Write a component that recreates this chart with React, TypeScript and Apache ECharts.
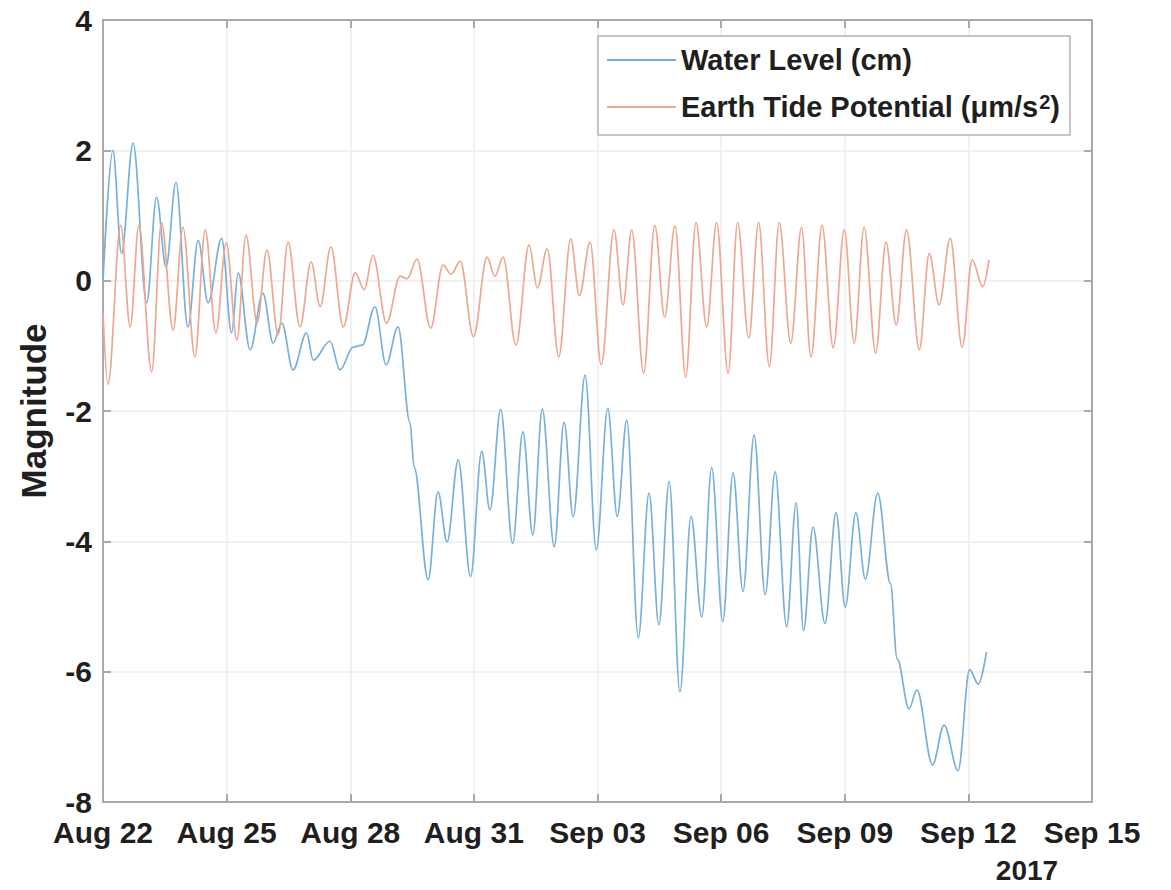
import React, { useEffect, useRef } from "react";
import * as echarts from "echarts";

// x in days after Aug 22 2017 00:00
const xTickLabels = ["Aug 22", "Aug 25", "Aug 28", "Aug 31", "Sep 03", "Sep 06", "Sep 09", "Sep 12", "Sep 15"];
const yearLabel = "2017";
const yTicks = [-8, -6, -4, -2, 0, 2, 4];

const seriesNames = ["Water Level (cm)", "Earth Tide Potential (\u03bcm/s\u00b2)"];

const waterDays = [
  0.0, 0.24, 0.45, 0.73, 1.06, 1.3, 1.53, 1.77, 2.06, 2.31, 2.55, 2.88, 3.12, 3.28, 3.57, 3.88, 4.13, 4.34, 4.61,
  4.94, 5.1, 5.51, 5.75, 6.07, 6.29, 6.6, 6.87, 7.16, 7.45, 7.55, 7.89, 8.13, 8.35, 8.62, 8.92, 9.19, 9.39, 9.65,
  9.94, 10.19, 10.43, 10.66, 10.95, 11.19, 11.41, 11.7, 11.97, 12.25, 12.48, 12.71, 12.99, 13.25, 13.49, 13.74,
  14.0, 14.27, 14.53, 14.77, 15.04, 15.29, 15.53, 15.8, 16.07, 16.31, 16.59, 16.82, 17.0, 17.23, 17.52, 17.79,
  18.01, 18.27, 18.5, 18.8, 19.11, 19.27, 19.56, 19.75, 20.13, 20.41, 20.75, 21.03, 21.24, 21.44,
];
const waterValues = [
  0.0, 2.0, 0.42, 2.11, -0.34, 1.28, 0.21, 1.51, -0.71, 0.62, -0.34, 0.65, -0.8, 0.12, -1.06, -0.19, -0.96, -0.65,
  -1.37, -0.8, -1.22, -0.93, -1.37, -1.02, -0.99, -0.4, -1.29, -0.71, -2.18, -2.86, -4.59, -3.24, -4.01, -2.75,
  -4.54, -2.62, -3.52, -1.98, -4.03, -2.32, -3.9, -1.97, -4.08, -2.17, -3.62, -1.45, -4.13, -1.96, -3.62, -2.14,
  -5.48, -3.26, -5.28, -3.08, -6.31, -3.62, -5.16, -2.87, -5.23, -2.95, -4.77, -2.37, -4.82, -2.93, -5.31, -3.41,
  -5.37, -3.78, -5.26, -3.56, -5.01, -3.56, -4.58, -3.26, -4.65, -5.8, -6.57, -6.28, -7.43, -6.82, -7.52, -5.97,
  -6.19, -5.7,
];

const tideDays = [
  0.0, 0.12, 0.43, 0.66, 0.87, 1.18, 1.42, 1.7, 1.94, 2.23, 2.48, 2.74, 2.99, 3.25, 3.47, 3.74, 3.98, 4.25, 4.49,
  4.78, 5.05, 5.27, 5.53, 5.83, 6.12, 6.34, 6.55, 6.88, 7.21, 7.38, 7.62, 7.95, 8.25, 8.45, 8.67, 8.99, 9.32, 9.51,
  9.71, 10.02, 10.34, 10.54, 10.78, 11.06, 11.35, 11.56, 11.82, 12.09, 12.4, 12.62, 12.83, 13.12, 13.39, 13.63,
  13.88, 14.14, 14.39, 14.65, 14.89, 15.17, 15.4, 15.67, 15.91, 16.17, 16.41, 16.69, 16.95, 17.18, 17.45, 17.72,
  17.99, 18.23, 18.47, 18.75, 19.0, 19.25, 19.5, 19.81, 20.05, 20.29, 20.56, 20.85, 21.09, 21.35, 21.5,
];
const tideValues = [
  -0.5, -1.59, 0.85, -0.71, 0.85, -1.4, 0.89, -0.76, 0.82, -1.17, 0.78, -0.8, 0.58, -0.91, 0.7, -0.65, 0.47, -0.83,
  0.59, -0.71, 0.29, -0.4, 0.52, -0.71, 0.12, -0.14, 0.39, -0.65, 0.07, 0.03, 0.33, -0.73, 0.24, 0.1, 0.3, -0.86,
  0.36, 0.07, 0.36, -0.99, 0.55, -0.11, 0.49, -1.17, 0.64, -0.23, 0.59, -1.29, 0.78, -0.37, 0.78, -1.42, 0.85,
  -0.56, 0.84, -1.48, 0.89, -0.71, 0.89, -1.42, 0.89, -0.88, 0.89, -1.32, 0.89, -0.96, 0.82, -1.17, 0.85, -1.03,
  0.78, -0.96, 0.82, -1.11, 0.59, -0.68, 0.78, -1.06, 0.42, -0.37, 0.65, -1.02, 0.32, -0.09, 0.32,
];

const FONT = "'Liberation Sans', Arial, Helvetica, sans-serif";
const TEXT = "#1f1f1f";
const AXIS = "#a9a9a9";
const GRID = "#ececec";
const BLUE = "#79b0da";
const ORANGE = "#eca892";

export default function App() {
  const ref = useRef<HTMLDivElement>(null);
  useEffect(() => {
    if (!ref.current) return;
    const chart = echarts.init(ref.current, undefined, { renderer: "svg" });
    const water = waterDays.map((d, i) => [d, waterValues[i]]);
    const tide = tideDays.map((d, i) => [d, tideValues[i]]);
    chart.setOption({
      animation: false,
      backgroundColor: "#ffffff",
      grid: { left: 103, right: 79, top: 20, bottom: 88, containLabel: false },
      legend: {
        orient: "vertical",
        left: 598,
        top: 36,
        padding: [9, 10, 9, 9],
        itemGap: 17,
        itemWidth: 69,
        itemHeight: 2,
        icon: "rect",
        backgroundColor: "#ffffff",
        borderColor: "#b4b4b4",
        borderWidth: 1.5,
        formatter: (name: string) =>
          name === seriesNames[1] ? "Earth Tide Potential (\u03bcm/s{sup|2})" : name,
        textStyle: {
          fontFamily: FONT,
          fontWeight: "bold",
          fontSize: 29,
          color: TEXT,
          lineHeight: 30,
          rich: {
            sup: {
              fontFamily: FONT,
              fontWeight: "bold",
              fontSize: 20,
              color: TEXT,
              verticalAlign: "top",
              lineHeight: 30,
              padding: [0, 0, 14, 1],
            },
          },
        },
        data: seriesNames,
      },
      xAxis: [
        {
          type: "value",
          min: 0,
          max: 24,
          interval: 3,
          axisLine: { show: true, onZero: false, lineStyle: { color: AXIS, width: 2 } },
          axisTick: { show: true, inside: true, length: 8, lineStyle: { color: AXIS, width: 2 } },
          splitLine: { show: true, lineStyle: { color: GRID, width: 1.5 } },
          axisLabel: {
            margin: 16,
            fontFamily: FONT,
            fontWeight: "bold",
            fontSize: 30,
            lineHeight: 28,
            color: TEXT,
            formatter: (v: number) => xTickLabels[Math.round(v / 3)] ?? "",
          },
        },
        {
          type: "value",
          position: "top",
          min: 0,
          max: 24,
          interval: 3,
          axisLine: { show: true, onZero: false, lineStyle: { color: AXIS, width: 2 } },
          axisTick: { show: true, inside: true, length: 8, lineStyle: { color: AXIS, width: 2 } },
          splitLine: { show: false },
          axisLabel: { show: false },
        },
      ],
      yAxis: [
        {
          type: "value",
          min: -8,
          max: 4,
          interval: 2,
          name: "Magnitude",
          nameLocation: "middle",
          nameRotate: 90,
          nameGap: 52,
          nameTextStyle: { fontFamily: FONT, fontWeight: "bold", fontSize: 35, color: TEXT },
          axisLine: { show: true, onZero: false, lineStyle: { color: AXIS, width: 2 } },
          axisTick: { show: true, inside: true, length: 8, lineStyle: { color: AXIS, width: 2 } },
          splitLine: { show: true, lineStyle: { color: GRID, width: 1.5 } },
          axisLabel: {
            margin: 11,
            fontFamily: FONT,
            fontWeight: "bold",
            fontSize: 30,
            lineHeight: 26,
            color: TEXT,
            formatter: (v: number) => (yTicks.includes(v) ? String(v) : ""),
          },
        },
        {
          type: "value",
          position: "right",
          min: -8,
          max: 4,
          interval: 2,
          axisLine: { show: true, onZero: false, lineStyle: { color: AXIS, width: 2 } },
          axisTick: { show: true, inside: true, length: 8, lineStyle: { color: AXIS, width: 2 } },
          splitLine: { show: false },
          axisLabel: { show: false },
        },
      ],
      series: [
        {
          name: seriesNames[0],
          type: "line",
          data: water,
          showSymbol: false,
          symbol: "none",
          smooth: 0.35,
          smoothMonotone: "x",
          color: BLUE,
          lineStyle: { color: BLUE, width: 1.7 },
          z: 2,
        },
        {
          name: seriesNames[1],
          type: "line",
          data: tide,
          showSymbol: false,
          symbol: "none",
          smooth: 0.35,
          smoothMonotone: "x",
          color: ORANGE,
          lineStyle: { color: ORANGE, width: 1.7 },
          z: 3,
        },
      ],
      graphic: [
        {
          type: "text",
          x: 1027,
          y: 870,
          style: {
            text: yearLabel,
            font: `bold 28px ${FONT}`,
            fill: TEXT,
            textAlign: "center",
            textVerticalAlign: "middle",
          },
        },
      ],
    });
    return () => chart.dispose();
  }, []);
  return (
    <div
      ref={ref}
      style={{ position: "fixed", left: 0, top: 0, width: 1171, height: 890, background: "#fff" }}
    />
  );
}
